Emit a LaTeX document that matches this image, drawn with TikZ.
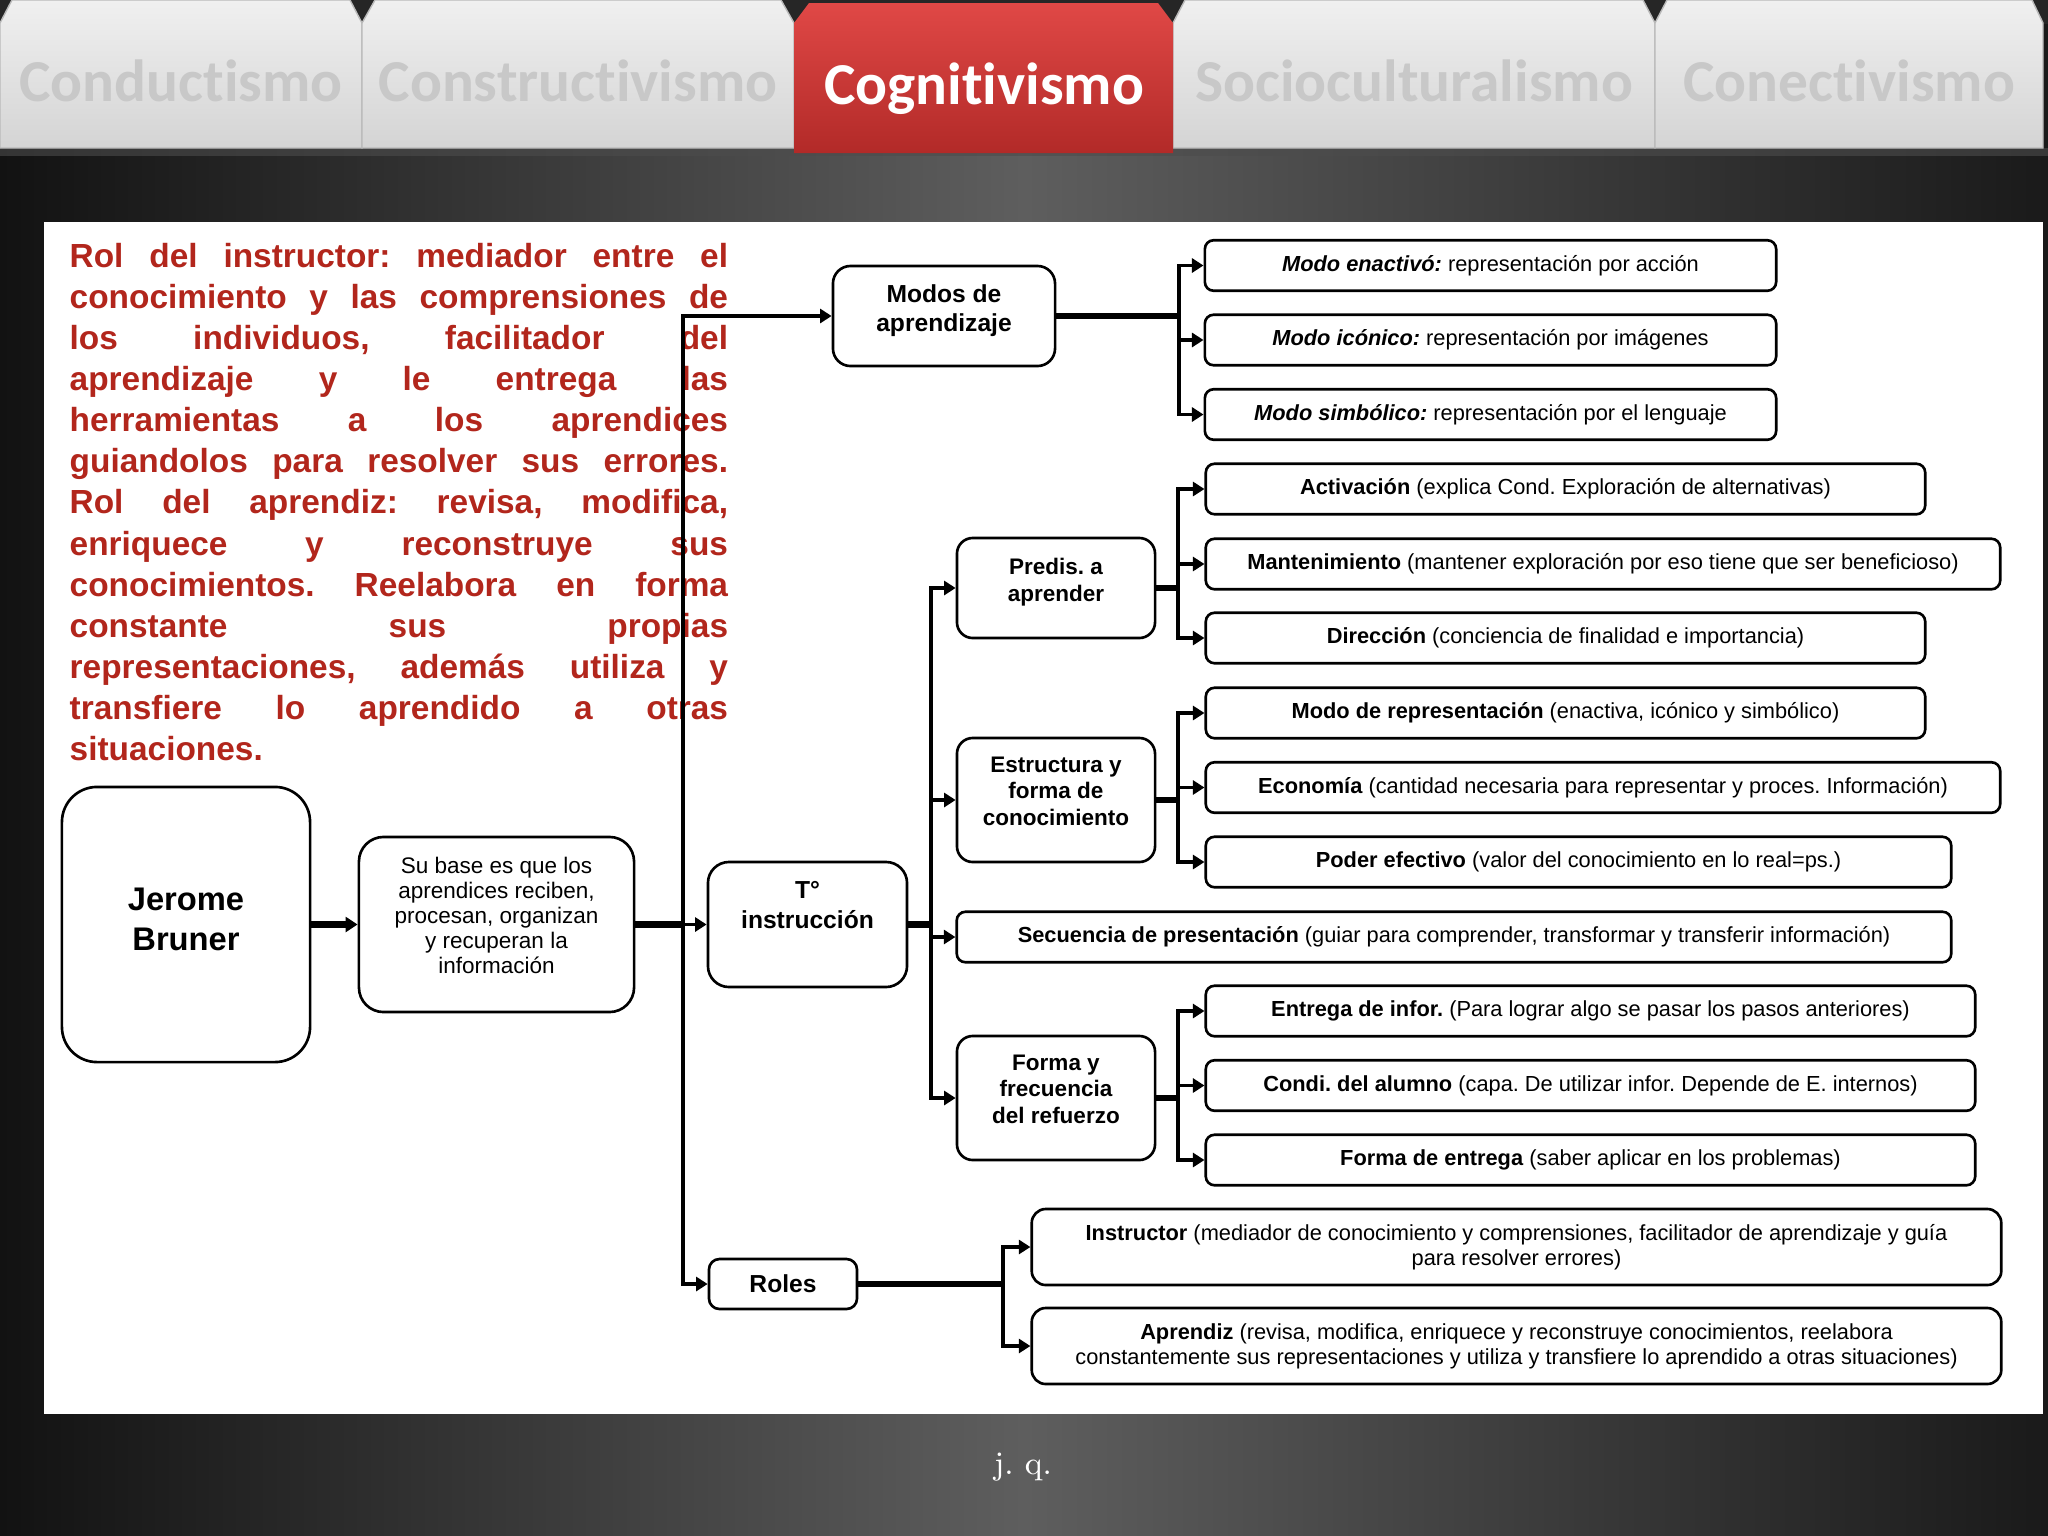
\documentclass[tikz,border=0pt]{standalone}
\usepackage{fontspec}
\usetikzlibrary{arrows.meta}
\newfontfamily\df{Liberation Sans}
\newfontfamily\tabfont[Ligatures=NoCommon]{Carlito}
\definecolor{paracol}{RGB}{178,38,28}
\definecolor{tabtext}{RGB}{200,200,200}
\definecolor{tabtop}{RGB}{240,240,240}
\definecolor{tabbot}{RGB}{212,212,212}
\definecolor{redtop}{RGB}{224,72,70}
\definecolor{redbot}{RGB}{178,42,40}
\definecolor{bgedge}{RGB}{18,18,18}
\definecolor{bgedgeR}{RGB}{26,26,26}
\definecolor{bgmid}{RGB}{94,94,94}
\tikzset{
  box/.style={draw=black, line width=0.75pt, fill=white, inner sep=1pt, align=center,
    font=\df\fontsize{6.2}{7.1}\selectfont, rounded corners=2.5pt},
  leaf/.style={box, minimum height=0.505cm},
  mid/.style={box, font=\df\bfseries\fontsize{6.4}{7.6}\selectfont, minimum width=1.98cm, rounded corners=4.5pt},
  stem/.style={line width=1.9pt},
  conn/.style={line width=1.1pt, -{Triangle[length=3.3pt,width=4pt]}},
  tabshape/.style={draw=gray!55, line width=0.4pt, top color=tabtop, bottom color=tabbot},
  tablabel/.style={font=\tabfont\bfseries\fontsize{16.9}{20}\selectfont, text=tabtext, anchor=base},
}
\newcommand{\jl}[1]{\makebox[\linewidth][s]{#1}\\}
\begin{document}
\frenchspacing
\begin{tikzpicture}[x=0.01cm,y=-0.01cm]
\useasboundingbox (0,0) rectangle (2048,1536);
% background
\fill[left color=bgedge, right color=bgedgeR, middle color=bgmid] (0,0) rectangle (2048,1536);
\fill[black!85] (0,0) rectangle (2048,24);
\fill[black!70, opacity=0.6] (0,148) rectangle (2048,156);
% tabs
\path[tabshape] (0,23) -- (12,0) -- (350,0) -- (362,23) -- (362,148) -- (0,148) -- cycle;
\path[tabshape] (362,23) -- (375,0) -- (781,0) -- (794,23) -- (794,148) -- (362,148) -- cycle;
\path[tabshape] (1173,23) -- (1185,0) -- (1643,0) -- (1655,23) -- (1655,148) -- (1173,148) -- cycle;
\path[tabshape] (1655,23) -- (1667,0) -- (2032,0) -- (2043,23) -- (2043,148) -- (1655,148) -- cycle;
\path[top color=redtop, bottom color=redbot] (794,23) -- (809,3) -- (1158,3) -- (1173,23) -- (1173,153) -- (794,153) -- cycle;
\node[tablabel] (t1) at (181,101) {Conductismo};
\node[tablabel] (t2) at (578,101) {Constructivismo};
\node[tablabel, text=white] (t3) at (984,104) {Cognitivismo};
\node[tablabel] (t4) at (1414,101) {Socioculturalismo};
\node[tablabel] (t5) at (1849,101) {Conectivismo};
% white panel
\fill[white] (44,222) rectangle (2043,1414);
% paragraph
\node[anchor=base west, inner sep=0, text=paracol] (para) at (69,267) {\parbox[t]{6.58cm}{\df\bfseries\fontsize{9.5}{11.7}\selectfont\frenchspacing
\jl{Rol del instructor: mediador entre el}
\jl{conocimiento y las comprensiones de}
\jl{los individuos, facilitador del}
\jl{aprendizaje y le entrega las}
\jl{herramientas a los aprendices}
\jl{guiandolos para resolver sus errores.}
\jl{Rol del aprendiz: revisa, modifica,}
\jl{enriquece y reconstruye sus}
\jl{conocimientos. Reelabora en forma}
\jl{constante sus propias}
\jl{representaciones, además utiliza y}
\jl{transfiere lo aprendido a otras}
situaciones.}};
% main nodes
\node[box, minimum width=2.48cm, minimum height=2.75cm, rounded corners=10pt, text depth=3pt, font=\df\bfseries\fontsize{9.3}{11.1}\selectfont] (jb) at (186,924.5) {Jerome\\Bruner};
\node[box, minimum width=2.75cm, minimum height=1.75cm, rounded corners=7pt, text depth=5pt, font=\df\fontsize{6.4}{7.1}\selectfont] (sb) at (496.5,924.5) {Su base es que los\\aprendices reciben,\\procesan, organizan\\y recuperan la\\información};
\node[box, minimum width=1.99cm, minimum height=1.25cm, rounded corners=6pt, font=\df\bfseries\fontsize{7}{8.5}\selectfont] (ti) at (807.5,924.5) {T°\\instrucción\\[2.5pt]\mbox{}};
\node[box, minimum width=2.22cm, minimum height=1.0cm, rounded corners=5pt, text depth=4.5pt, font=\df\bfseries\fontsize{7}{8}\selectfont] (modos) at (944,316) {Modos de\\aprendizaje};
\node[mid, minimum height=1.0cm, text depth=4.5pt] (predis) at (1056,588) {Predis. a\\aprender};
\node[mid, minimum height=1.24cm, text depth=5pt] (estr) at (1056,800) {Estructura y\\forma de\\conocimiento};
\node[mid, minimum height=1.24cm, text depth=5pt] (forma) at (1056,1098) {Forma y\\frecuencia\\del refuerzo};
\node[box, minimum width=1.48cm, minimum height=0.5cm, rounded corners=3pt, font=\df\bfseries\fontsize{7}{8}\selectfont] (roles) at (783,1284) {Roles};
% leaves
\node[leaf, minimum width=5.71cm] (m1) at (1490.5,265.5) {\textbf{\textit{Modo enactivó:}} representación por acción};
\node[leaf, minimum width=5.71cm] (m2) at (1490.5,340) {\textbf{\textit{Modo icónico:}} representación por imágenes};
\node[leaf, minimum width=5.71cm] (m3) at (1490.5,414.5) {\textbf{\textit{Modo simbólico:}} representación por el lenguaje};
\node[leaf, minimum width=7.19cm] (p1) at (1565.5,489) {\textbf{Activación} (explica Cond. Exploración de alternativas)};
\node[leaf, minimum width=7.94cm] (p2) at (1603,564) {\textbf{Mantenimiento} (mantener exploración por eso tiene que ser beneficioso)};
\node[leaf, minimum width=7.19cm] (p3) at (1565.5,638) {\textbf{Dirección} (conciencia de finalidad e importancia)};
\node[leaf, minimum width=7.19cm] (e1) at (1565.5,713) {\textbf{Modo de representación} (enactiva, icónico y simbólico)};
\node[leaf, minimum width=7.94cm] (e2) at (1603,787.5) {\textbf{Economía} (cantidad necesaria para representar y proces. Información)};
\node[leaf, minimum width=7.45cm] (e3) at (1578.5,862) {\textbf{Poder efectivo} (valor del conocimiento en lo real=ps.)};
\node[leaf, minimum width=9.94cm] (secu) at (1454,937) {\textbf{Secuencia de presentación} (guiar para comprender, transformar y transferir información)};
\node[leaf, minimum width=7.69cm] (f1) at (1590.5,1011) {\textbf{Entrega de infor.} (Para lograr algo se pasar los pasos anteriores)};
\node[leaf, minimum width=7.69cm] (f2) at (1590.5,1085.5) {\textbf{Condi. del alumno} (capa. De utilizar infor. Depende de E. internos)};
\node[leaf, minimum width=7.69cm] (f3) at (1590.5,1160) {\textbf{Forma de entrega} (saber aplicar en los problemas)};
\node[box, minimum width=9.69cm, minimum height=0.76cm, rounded corners=4pt] (r1) at (1516.5,1247) {\textbf{Instructor} (mediador de conocimiento y comprensiones, facilitador de aprendizaje y guía\\para resolver errores)};
\node[box, minimum width=9.69cm, minimum height=0.76cm, rounded corners=4pt] (r2) at (1516.5,1346) {\textbf{Aprendiz} (revisa, modifica, enriquece y reconstruye conocimientos, reelabora\\constantemente sus representaciones y utiliza y transfiere lo aprendido a otras situaciones)};
% bus coordinates
\coordinate (b1) at (683,924.5);
\coordinate (b2) at (931,924.5);
\coordinate (bm) at (1179,316);
\coordinate (bp) at (1178,588);
\coordinate (be) at (1178,800);
\coordinate (bf) at (1178,1098);
\coordinate (br) at (1003,1284);
% connectors
\draw[stem, -{Triangle[length=3.4pt,width=4.2pt]}] (jb.east) -- (sb.west);
\draw[stem] (sb.east) -- (b1);
\draw[conn] (b1) -- (ti.west);
\draw[conn, line width=1.3pt] (b1) |- (modos.west);
\draw[conn, line width=1.3pt] (b1) |- (roles.west);
\draw[stem] (ti.east) -- (b2);
\draw[conn] (b2) |- (predis.west);
\draw[conn] (b2) |- (estr.west);
\draw[conn] (b2) |- (secu.west);
\draw[conn] (b2) |- (forma.west);
\draw[stem] (modos.east) -- (bm);
\draw[conn] (bm) |- (m1.west);
\draw[conn] (bm) |- (m2.west);
\draw[conn] (bm) |- (m3.west);
\draw[stem] (predis.east) -- (bp);
\draw[conn] (bp) |- (p1.west);
\draw[conn] (bp) |- (p2.west);
\draw[conn] (bp) |- (p3.west);
\draw[stem] (estr.east) -- (be);
\draw[conn] (be) |- (e1.west);
\draw[conn] (be) |- (e2.west);
\draw[conn] (be) |- (e3.west);
\draw[stem] (forma.east) -- (bf);
\draw[conn] (bf) |- (f1.west);
\draw[conn] (bf) |- (f2.west);
\draw[conn] (bf) |- (f3.west);
\draw[stem] (roles.east) -- (br);
\draw[conn] (br) |- (r1.west);
\draw[conn] (br) |- (r2.west);
% footer
\node[text=white, font=\fontsize{9.3}{11}\selectfont] (jq) at (1023,1467) {j. q.};
\end{tikzpicture}
\end{document}
